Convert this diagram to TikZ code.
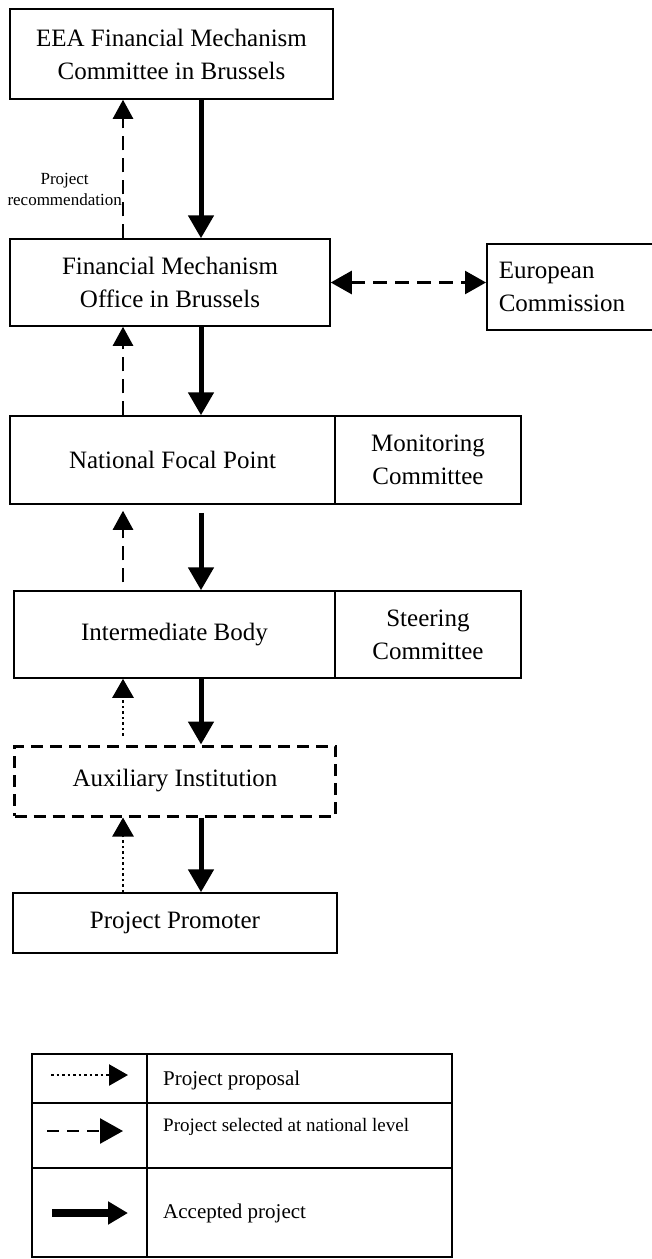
\documentclass[tikz,border=0pt]{standalone}
\usepackage{fontspec}
\setmainfont{Liberation Serif}
\usetikzlibrary{arrows.meta}
\newcommand{\unitfont}{\fontsize{25}{33}\selectfont}
\newcommand{\notefont}{\fontsize{17}{21}\selectfont}
\newcommand{\keyfont}{\fontsize{21}{25}\selectfont}
\newcommand{\keysmallfont}{\fontsize{19}{23}\selectfont}
\begin{document}
\begin{tikzpicture}[
		x=1pt, y=-1pt,
		unit/.style = {draw, line width=1.5pt, align=center, font=\unitfont, inner sep=0pt},
		accepted/.style = {line width=5pt, -{Triangle[width=25pt, length=23pt]}},
		selected/.style = {line width=2.5pt, dash pattern=on 14pt off 8pt, -{Triangle[width=20pt, length=19pt]}},
		proposal/.style = {line width=2.5pt, dash pattern=on 2.5pt off 3pt, -{Triangle[width=21pt, length=19pt]}},
	]
	\path[use as bounding box] (0,0) rectangle (651,1259);
	\node[unit, minimum width=323pt, minimum height=90pt] (eea) at (171.5,54) {EEA Financial Mechanism\\Committee in Brussels};
	\node[unit, minimum width=320pt, minimum height=87pt] (fmo) at (170,282.5) {Financial Mechanism\\Office in Brussels};
	\node[unit, anchor=west, minimum height=86pt, align=left, text width=176pt, inner xsep=12pt] (ec) at (486,287) {European\\Commission};
	\node[unit, minimum width=325pt, minimum height=88pt] (nfp) at (172.5,460) {National Focal Point};
	\node[unit, minimum width=186pt, minimum height=88pt] (mc) at (428,460) {Monitoring\\Committee};
	\node[unit, minimum width=321pt, minimum height=87pt] (ib) at (174.5,634.5) {Intermediate Body};
	\node[unit, minimum width=186pt, minimum height=87pt] (sc) at (428,634.5) {Steering\\Committee};
	\node[unit, line width=3pt, dash pattern=on 12pt off 7pt, minimum width=321pt, minimum height=70pt] (aux) at (175,781) {Auxiliary Institution};
	\node[unit, minimum width=324pt, minimum height=60pt] (pp) at (175,923) {Project Promoter};
	\coordinate (upx) at (123,0);
	\coordinate (dnx) at (201,0);
	\draw[accepted] (eea.south -| dnx) -- (fmo.north -| dnx);
	\draw[selected] (fmo.north -| upx) -- (eea.south -| upx) node[left, pos=0.35, inner sep=0pt, align=center, font=\notefont] (rec) {Project\\recommendation};
	\draw[selected, {Triangle[width=23pt, length=21pt]}-{Triangle[width=23pt, length=21pt]}] (fmo.east) -- (fmo.east -| ec.west);
	\draw[accepted] (fmo.south -| dnx) -- (nfp.north -| dnx);
	\draw[selected] (nfp.north -| upx) -- (fmo.south -| upx);
	\draw[accepted, shorten <=8pt] (nfp.south -| dnx) -- (ib.north -| dnx);
	\draw[selected, shorten <=8pt, shorten >=6pt] (ib.north -| upx) -- (nfp.south -| upx);
	\draw[accepted] (ib.south -| dnx) -- (aux.north -| dnx);
	\draw[proposal, shorten <=9pt] (aux.north -| upx) -- (ib.south -| upx);
	\draw[accepted] (aux.south -| dnx) -- (pp.north -| dnx);
	\draw[proposal] (pp.north -| upx) -- (aux.south -| upx);
	\draw[line width=1.5pt] (32,1054) rectangle (452,1257);
	\draw[line width=1.5pt] (32,1103) -- (452,1103) (32,1168) -- (452,1168) (147,1054) -- (147,1257);
	\coordinate (k1a) at (51,1075);
	\coordinate (k1b) at (128,1075);
	\coordinate (k2a) at (47,1131);
	\coordinate (k2b) at (123,1131);
	\coordinate (k3a) at (52,1213);
	\coordinate (k3b) at (128,1213);
	\draw[proposal] (k1a) -- (k1b);
	\draw[selected, dash pattern=on 12pt off 8pt, -{Triangle[width=25pt, length=23pt]}] (k2a) -- (k2b);
	\draw[accepted, line width=8pt, -{Triangle[width=22pt, length=20pt]}] (k3a) -- (k3b);
	\node[anchor=west, inner sep=0pt, font=\keyfont] (kp) at (163,1080) {Project proposal};
	\node[anchor=west, inner sep=0pt, font=\keysmallfont] (ks) at (163,1127) {Project selected at national level};
	\node[anchor=west, inner sep=0pt, font=\keyfont] (ka) at (163,1213) {Accepted project};
\end{tikzpicture}
\end{document}
